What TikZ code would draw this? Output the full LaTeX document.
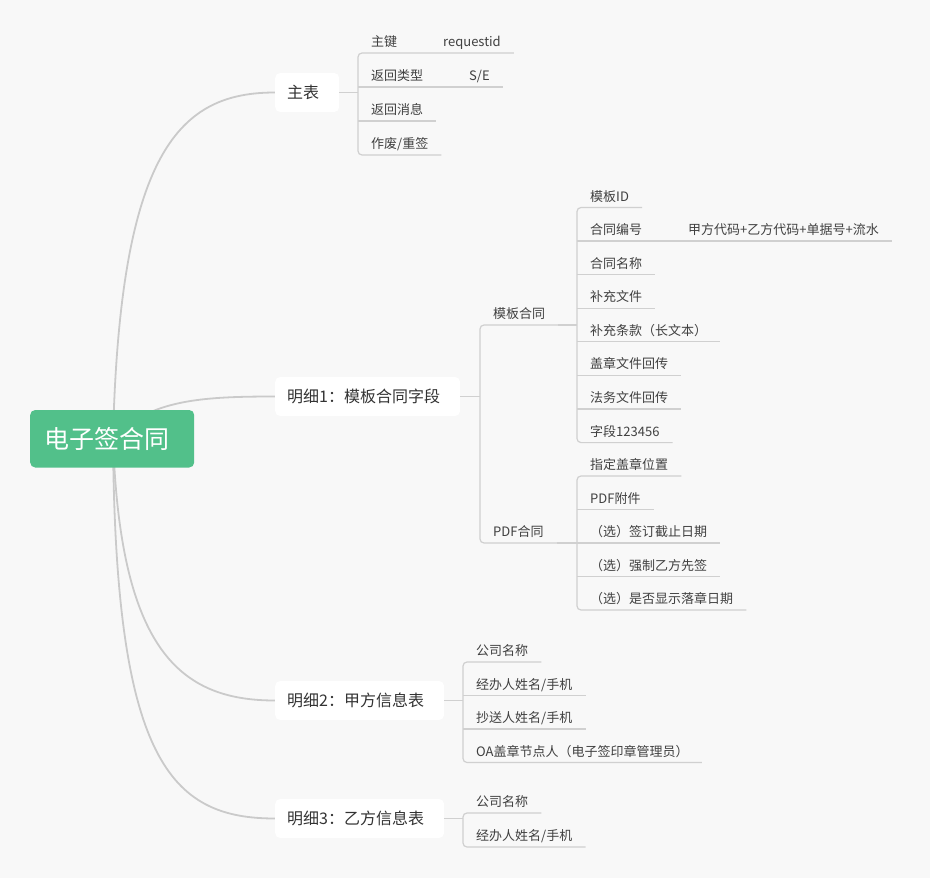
\documentclass[tikz,border=0pt]{standalone}
\usepackage{fontspec}
\setmainfont{Noto Sans CJK SC}
\usetikzlibrary{backgrounds}
\definecolor{bgc}{HTML}{F8F8F8}
\definecolor{rootc}{HTML}{52C08A}
\definecolor{txt}{HTML}{404040}
\definecolor{txtb}{HTML}{333333}
\definecolor{linec}{HTML}{D0D0D0}
\definecolor{curvec}{HTML}{CACACA}
\tikzset{
  leaf/.style={anchor=south west, inner xsep=13pt, inner ysep=6.3pt, text depth=0pt,
    font=\fontsize{13}{13}\selectfont, text=txt},
  lone/.style={anchor=west, fill=white, rounded corners=5pt, minimum height=39pt,
    inner xsep=12pt, font=\fontsize{16}{16}\selectfont, text=txtb,
    execute at end node={\hspace{8pt}}},
  conn/.style={draw=linec, line width=1.2pt},
  bracket/.style={draw=linec, line width=1.2pt, rounded corners=4pt},
  trunk/.style={draw=curvec, line width=1.8pt},
}
\begin{document}
\begin{tikzpicture}[x=1pt,y=-1pt]
\useasboundingbox (0,0) rectangle (930,878);

% level-1 nodes
\node[lone] (zb) at (275,92.5) {主表};
\node[lone] (m1) at (275,396.5) {明细1：模板合同字段};
\node[lone] (m2) at (275,700.5) {明细2：甲方信息表};
\node[lone] (m3) at (275,818.5) {明细3：乙方信息表};

% root
\node[anchor=west, fill=rootc, rounded corners=5pt, minimum height=57.5pt,
  inner xsep=14pt, text width=136pt, align=left, text=white,
  font=\fontsize{25}{25}\selectfont] (root) at (30,438.75) {电子签合同};
\coordinate (rc) at (113,438);

% background and trunk curves
\begin{scope}[on background layer]
\fill[bgc] (0,0) rectangle (930,878);
\draw[trunk] (rc) .. controls (120,150) and (180,92.5) .. (zb.west);
\draw[trunk] (rc) .. controls (150,400) and (200,396.5) .. (m1.west);
\draw[trunk] (rc) .. controls (120,650) and (180,700.5) .. (m2.west);
\draw[trunk] (rc) .. controls (115,760) and (170,818.5) .. (m3.west);
\end{scope}

% ---------- 主表 children ----------
\node[leaf] (z1) at (358,53) {主键\hspace{46pt}requestid};
\node[leaf] (z2) at (358,87) {返回类型\hspace{46pt}S/E};
\node[leaf] (z3) at (358,121) {返回消息};
\node[leaf] (z4) at (358,155) {作废/重签};
\draw[bracket] (z1.south east) -- (z1.south west) -- (z4.south west) -- (z4.south east);
\draw[conn] (z2.south west) -- (z2.south east);
\draw[conn] (z3.south west) -- (z3.south east);
\draw[conn] (zb.east) -- (zb.east -| z1.south west);

% ---------- 明细1 children ----------
\node[leaf] (mb) at (480,325) {模板合同};
\node[leaf] (pd) at (480,543) {PDF合同};
\draw[bracket] (mb.south east) -- (mb.south west) -- (pd.south west) -- (pd.south east);
\draw[conn] (m1.east) -- (m1.east -| mb.south west);

% 模板合同 children
\node[leaf] (a1) at (577,207.5) {模板ID};
\node[leaf] (a2) at (577,241) {合同编号\hspace{46pt}甲方代码+乙方代码+单据号+流水};
\node[leaf] (a3) at (577,274.6) {合同名称};
\node[leaf] (a4) at (577,308.2) {补充文件};
\node[leaf] (a5) at (577,341.8) {补充条款（长文本）};
\node[leaf] (a6) at (577,375.4) {盖章文件回传};
\node[leaf] (a7) at (577,409) {法务文件回传};
\node[leaf] (a8) at (577,442.6) {字段123456};
\draw[bracket] (a1.south east) -- (a1.south west) -- (a8.south west) -- (a8.south east);
\foreach \n in {a2,a3,a4,a5,a6,a7} {\draw[conn] (\n.south west) -- (\n.south east);}
\draw[conn] (mb.south east) -- (mb.south east -| a1.south west);

% PDF合同 children
\node[leaf] (b1) at (577,476) {指定盖章位置};
\node[leaf] (b2) at (577,509.5) {PDF附件};
\node[leaf] (b3) at (577,543) {（选）签订截止日期};
\node[leaf] (b4) at (577,576.5) {（选）强制乙方先签};
\node[leaf] (b5) at (577,610) {（选）是否显示落章日期};
\draw[bracket] (b1.south east) -- (b1.south west) -- (b5.south west) -- (b5.south east);
\foreach \n in {b2,b3,b4} {\draw[conn] (\n.south west) -- (\n.south east);}
\draw[conn] (pd.south east) -- (pd.south east -| b1.south west);

% ---------- 明细2 children ----------
\node[leaf] (c1) at (463,662) {公司名称};
\node[leaf] (c2) at (463,695.5) {经办人姓名/手机};
\node[leaf] (c3) at (463,729) {抄送人姓名/手机};
\node[leaf] (c4) at (463,762.5) {OA盖章节点人（电子签印章管理员）};
\draw[bracket] (c1.south east) -- (c1.south west) -- (c4.south west) -- (c4.south east);
\draw[conn] (c2.south west) -- (c2.south east);
\draw[conn] (c3.south west) -- (c3.south east);
\draw[conn] (m2.east) -- (m2.east -| c1.south west);

% ---------- 明细3 children ----------
\node[leaf] (d1) at (463,813) {公司名称};
\node[leaf] (d2) at (463,847) {经办人姓名/手机};
\draw[bracket] (d1.south east) -- (d1.south west) -- (d2.south west) -- (d2.south east);
\draw[conn] (m3.east) -- (m3.east -| d1.south west);
\end{tikzpicture}
\end{document}
